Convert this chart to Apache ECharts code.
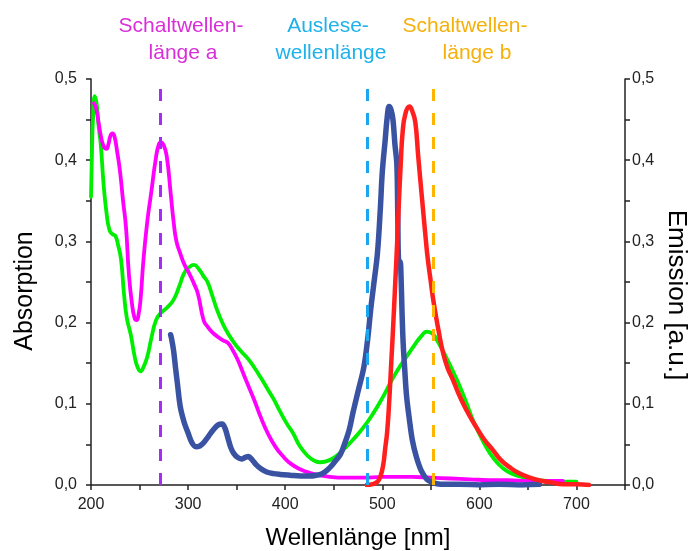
<!DOCTYPE html>
<html><head><meta charset="utf-8">
<script src="https://cdn.jsdelivr.net/npm/echarts@6/dist/echarts.min.js"></script>
<style>html,body{margin:0;padding:0;background:#fff}#c{width:688px;height:551px}</style>
</head><body><div id="c"></div>
<script>
// ---- Data (wavelength nm, value) ----
const absGreen = [[200,0.355],[201,0.41],[202,0.45],[204,0.479],[206,0.468],[208,0.44],[210,0.42],[213,0.37],[216,0.335],[219,0.314],[222,0.309],[225,0.307],[228,0.295],[231,0.277],[234,0.235],[237,0.205],[241,0.185],[245,0.158],[248,0.145],[251,0.14],[254,0.145],[258,0.158],[262,0.18],[267,0.203],[272,0.212],[278,0.218],[285,0.228],[291,0.245],[296,0.261],[301,0.268],[306,0.271],[311,0.266],[316,0.257],[320,0.25],[325,0.233],[330,0.215],[336,0.198],[341,0.187],[348,0.174],[355,0.164],[362,0.155],[368,0.145],[375,0.132],[382,0.118],[388,0.106],[395,0.09],[402,0.075],[408,0.064],[415,0.048],[423,0.036],[430,0.03],[436,0.028],[442,0.029],[448,0.032],[455,0.038],[462,0.046],[470,0.056],[480,0.07],[490,0.087],[500,0.107],[508,0.125],[516,0.142],[525,0.158],[533,0.172],[540,0.183],[546,0.189],[552,0.186],[557,0.177],[562,0.166],[568,0.152],[574,0.137],[580,0.121],[587,0.1],[593,0.081],[600,0.063],[606,0.049],[611,0.039],[618,0.028],[624,0.021],[630,0.016],[640,0.011],[650,0.008],[660,0.006],[670,0.005],[680,0.005],[690,0.004],[700,0.004]];

const absMagenta = [[203,0.47],[205,0.465],[208,0.445],[211,0.425],[214,0.415],[216,0.414],[218,0.42],[220,0.43],[222,0.433],[224,0.43],[227,0.41],[230,0.385],[233,0.35],[236,0.318],[239,0.26],[242,0.225],[245,0.205],[247,0.203],[249,0.21],[251,0.228],[254,0.277],[258,0.325],[262,0.36],[267,0.404],[270,0.42],[272,0.422],[275,0.418],[278,0.405],[282,0.36],[285,0.325],[288,0.3],[292,0.285],[296,0.272],[301,0.261],[306,0.248],[310,0.236],[316,0.203],[320,0.195],[325,0.188],[330,0.183],[336,0.178],[341,0.175],[346,0.166],[350,0.157],[354,0.146],[360,0.128],[368,0.105],[375,0.083],[382,0.064],[390,0.047],[398,0.035],[406,0.026],[416,0.019],[425,0.015],[435,0.012],[446,0.01],[460,0.009],[480,0.009],[500,0.01],[515,0.01],[530,0.01],[550,0.009],[570,0.008],[590,0.007],[610,0.006],[630,0.006],[650,0.005],[670,0.005],[686,0.005]];

const emBlue = [[282,0.185],[283,0.18],[285,0.166],[287,0.145],[289,0.125],[292,0.096],[296,0.077],[300,0.064],[304,0.052],[308,0.047],[312,0.048],[316,0.052],[321,0.06],[326,0.068],[331,0.074],[335,0.075],[338,0.07],[341,0.058],[344,0.046],[347,0.039],[351,0.034],[355,0.032],[359,0.034],[362,0.035],[366,0.031],[370,0.025],[375,0.02],[381,0.016],[388,0.014],[395,0.013],[405,0.012],[416,0.011],[425,0.011],[432,0.012],[438,0.014],[443,0.018],[448,0.024],[452,0.03],[457,0.038],[461,0.05],[466,0.068],[470,0.09],[475,0.115],[481,0.145],[485,0.18],[488,0.215],[491,0.245],[495,0.285],[498,0.34],[500,0.385],[503,0.425],[505,0.452],[507,0.466],[509,0.462],[511,0.45],[513,0.42],[515,0.395],[516,0.33],[516.5,0.285],[517.5,0.27],[518.5,0.275],[519.3,0.258],[520.3,0.215],[521.5,0.175],[523,0.145],[525,0.11],[528,0.08],[531,0.055],[535,0.035],[540,0.018],[546,0.007],[552,0.003],[560,0.001],[580,0.001],[600,0.0],[620,0.001],[640,0.0],[662,0.001]];

const emRed = [[484,0.0],[490,0.001],[495,0.004],[498,0.01],[501,0.025],[503,0.045],[505,0.065],[507,0.1],[509,0.145],[511,0.19],[513,0.24],[515,0.29],[517,0.345],[519,0.395],[521,0.435],[524,0.458],[528,0.466],[531,0.46],[534,0.447],[537,0.405],[540,0.365],[542,0.339],[545,0.3],[547,0.277],[550,0.25],[552,0.232],[555,0.21],[558,0.19],[562,0.166],[567,0.145],[573,0.129],[578,0.114],[583,0.101],[590,0.085],[597,0.071],[605,0.056],[614,0.043],[622,0.031],[631,0.022],[640,0.015],[652,0.009],[665,0.005],[675,0.003],[686,0.001],[700,0.001],[713,0.0]];

const markWavelengths = [271, 485, 552];
const markColors = ['#a52cf5', '#1aa7f0', '#ffb400'];
const topLabels = [
  ['Schaltwellen-', 'länge a'],
  ['Auslese-', 'wellenlänge'],
  ['Schaltwellen-', 'länge b']
];
const topLabelColors = ['#d92fd9', '#1eb1ea', '#f5b00a'];
const topLabelX = [[181, 183], [328, 331], [465, 477]];

const xTicks = [200, 300, 400, 500, 600, 700];

// ---- Chart ----
const FONT = 'Liberation Sans, Arial, sans-serif';
const chart = echarts.init(document.getElementById('c'), null, {renderer: 'canvas'});

function yFmt(v) {
  const t = Math.round(v * 100);
  return t % 10 === 0 ? (t / 100).toFixed(1).replace('.', ',') : '';
}
const axisCol = '#222';

const graphics = [];
topLabels.forEach((lines, i) => {
  lines.forEach((ln, j) => {
    graphics.push({
      type: 'text', x: topLabelX[i][j], y: 26 + j * 27,
      style: {text: ln, font: '21px ' + FONT, fill: topLabelColors[i], align: 'center', verticalAlign: 'middle'}
    });
  });
});
graphics.push({type: 'text', x: 25, y: 291, rotation: Math.PI / 2,
  style: {text: 'Absorption', font: '25px ' + FONT, fill: '#000', align: 'center', verticalAlign: 'middle'}});
graphics.push({type: 'text', x: 676, y: 295, rotation: -Math.PI / 2,
  style: {text: 'Emission [a.u.]', font: '26px ' + FONT, fill: '#000', align: 'center', verticalAlign: 'middle'}});

function yAxisCfg(pos, margin) {
  return {
    type: 'value', position: pos, min: 0, max: 0.5, interval: 0.05,
    axisLine: {show: true, lineStyle: {color: axisCol, width: 1.5}},
    axisTick: {show: true, inside: false, length: 5, lineStyle: {color: axisCol, width: 1.5}},
    axisLabel: {formatter: yFmt, fontSize: 16, color: axisCol, fontFamily: FONT, margin: margin},
    splitLine: {show: false}
  };
}

function lineSeries(name, data, color, width, yIdx, z, smooth) {
  return {
    name: name, type: 'line', data: data, yAxisIndex: yIdx, showSymbol: false, symbol: 'none',
    smooth: smooth, z: z,
    lineStyle: {color: color, width: width, cap: 'round', join: 'round'}
  };
}

const series = [
  lineSeries('Absorption grün', absGreen, '#00ee00', 3.8, 0, 3, 0.5),
  lineSeries('Absorption magenta', absMagenta, '#ff00ff', 3.8, 0, 4, 0.5),
  lineSeries('Emission blau', emBlue, '#3a52a2', 5.5, 1, 5, 0.35),
  lineSeries('Emission rot', emRed, '#ff1f1f', 4.5, 1, 6, 0.5)
];
series[0].markLine = {
  silent: true, symbol: ['none', 'none'], label: {show: false}, z: 10, animation: false,
  data: markWavelengths.map((w, i) => ({xAxis: w, lineStyle: {color: markColors[i], width: 3, type: [12, 12]}}))
};

chart.setOption({
  animation: false,
  backgroundColor: '#fff',
  grid: {left: 91, right: 63, top: 79, bottom: 66, containLabel: false, outerBoundsMode: 'none'},
  xAxis: {
    type: 'value', min: 200, max: 750, interval: 50,
    name: 'Wellenlänge [nm]', nameLocation: 'middle', nameGap: 41,
    nameTextStyle: {fontSize: 24, color: '#000', fontFamily: FONT},
    axisLine: {show: true, onZero: false, lineStyle: {color: axisCol, width: 1.5}},
    axisTick: {show: true, inside: false, length: 5, lineStyle: {color: axisCol, width: 1.5}},
    axisLabel: {formatter: v => (xTicks.indexOf(v) >= 0 ? String(v) : ''), fontSize: 16, color: axisCol, fontFamily: FONT, margin: 12},
    splitLine: {show: false}
  },
  yAxis: [yAxisCfg('left', 14), yAxisCfg('right', 7)],
  graphic: graphics,
  series: series
});
</script></body></html>
